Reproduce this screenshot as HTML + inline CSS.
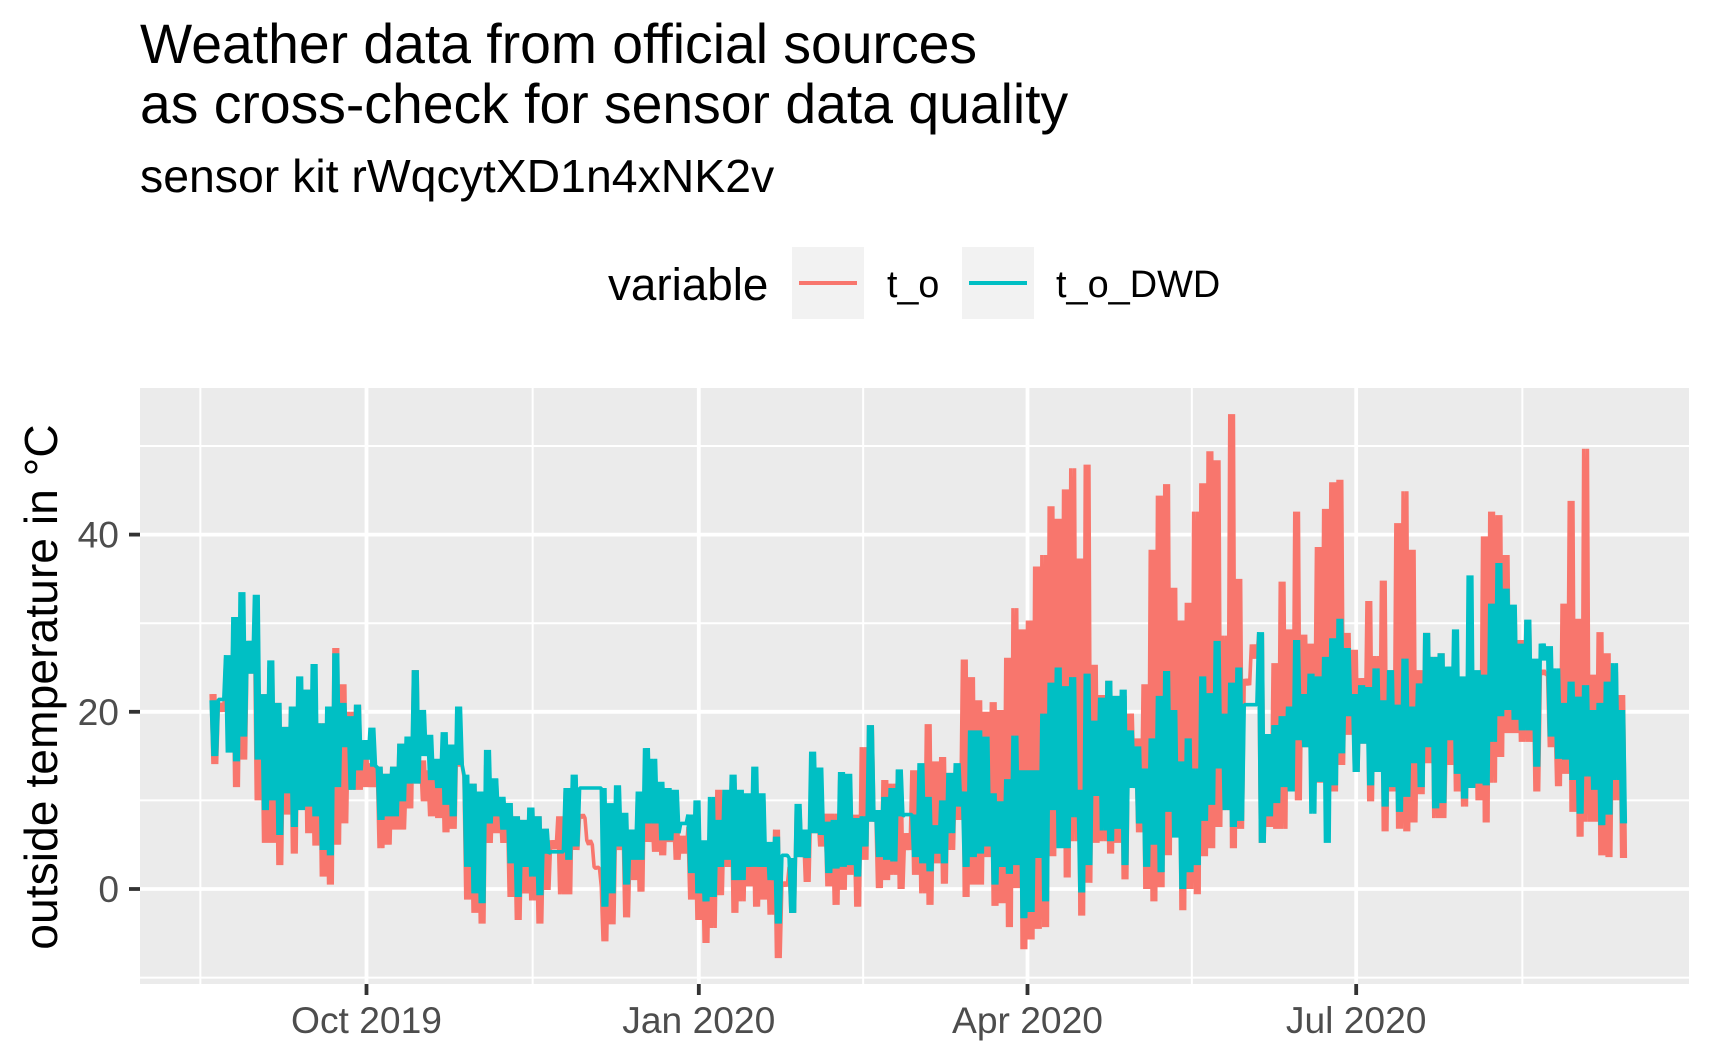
<!DOCTYPE html>
<html lang="en">
<head>
<meta charset="utf-8">
<title>Weather data cross-check</title>
<style>
html,body{margin:0;padding:0;background:#fff;width:1712px;height:1062px;overflow:hidden}
svg{display:block;font-family:"Liberation Sans",Arial,sans-serif}
</style>
</head>
<body>
<svg id="chart" xmlns="http://www.w3.org/2000/svg" width="1712" height="1062" viewBox="0 0 1712 1062">
  <text x="140" y="63" font-size="55.3" fill="#000">Weather data from official sources</text>
  <text x="140" y="123" font-size="55.3" fill="#000">as cross-check for sensor data quality</text>
  <text x="140" y="192" font-size="46.4" fill="#000">sensor kit rWqcytXD1n4xNK2v</text>
  <g>
    <text x="608" y="300" font-size="45.8" fill="#000">variable</text>
    <rect x="792" y="247" width="72" height="72" fill="#f2f2f2"></rect>
    <line x1="799" x2="857" y1="283" y2="283" stroke="#F8766D" stroke-width="4"></line>
    <text x="887" y="297" font-size="37.6" fill="#000">t_o</text>
    <rect x="962" y="247" width="72" height="72" fill="#f2f2f2"></rect>
    <line x1="969" x2="1027" y1="283" y2="283" stroke="#00BFC4" stroke-width="4"></line>
    <text x="1056" y="297" font-size="37.9" fill="#000">t_o_DWD</text>
  </g>
  <text transform="translate(57 687) rotate(-90)" text-anchor="middle" font-size="46.3" fill="#000">outside temperature in °C</text>
  <rect x="140" y="388" width="1549" height="596" fill="#EBEBEB"></rect>
  <g id="grid"></g>
  <g id="series"></g>
  <g id="axes"></g>
</svg>
<script>
// Time base: one high and one low reading per two-day slot, day 0 = 1 Oct 2019.
const firstDay = -43;
const slotDays = 2;
const xTickDays = [0, 92, 183, 274];
const xTickLabels = ["Oct 2019", "Jan 2020", "Apr 2020", "Jul 2020"];
const xMinorDays = [-46, 46, 137.5, 228.5, 320];
const yTickValues = [0, 20, 40];
const yTickLabels = ["0", "20", "40"];
const yMinorValues = [-10, 10, 30, 50];

const sensorHigh = [
22,21,26,28,28,28,30,22,25,21,
18.3,20.6,21.5,22.5,18,18.7,18.7,27.2,23.1,20,
20.8,16,14.2,13.8,13,13.8,16.4,13,24.7,14.5,
13.4,13,16,16,17.6,12.7,11.9,11,14,12.4,
9.9,9.7,8.2,7.8,9.2,8.2,6.8,5.5,8.2,11,
12.5,8.4,5.5,2.5,0.3,7,8.2,8,6,10.5,
14,10,10,11,9,6,7,8,5,8,
11.2,9,12,9.7,9,12,10,5.3,6.7,0.8,
2.5,9,6.3,10,8.5,8.5,8.5,12.3,12,8.4,
16,18.5,8.9,12.3,11.9,13.4,6.3,13.4,13.4,18.6,
14.4,14.9,13.1,13.8,25.9,23.9,21.3,20,21.1,20.2,
26.1,31.7,29.3,30.3,36.4,37.7,43.2,41.8,45.1,47.5,
37.3,47.9,25.3,21.9,23.5,21.8,21.8,19.8,17,23.1,
38.3,44.4,45.7,34,30.3,32.3,42.6,45.8,49.4,48.4,
28.6,53.6,35,23.7,27.6,28.8,14,25.5,34.7,29.3,
42.6,28.7,27.7,38.6,42.9,45.9,46.2,28.9,27,23.8,
32.5,26.3,34.8,24.7,41.3,44.9,38.3,24.7,28.9,26.2,
26.6,20,25,20,30,24,39.8,42.6,42.2,37.7,
31.8,28.1,30.3,25.8,24.7,24.2,21,32.2,43.8,30.5,
49.7,24.2,29,26.6,24.5,21.9];
const sensorLow = [
14.1,20,18,11.5,14.6,24.3,10,5.2,5.2,2.7,
8.4,4,12.7,6.3,4.9,1.4,0.5,5,7.4,11.2,
11.2,11.5,11.5,4.6,5,6.7,6.7,9.1,11.9,9.9,
8.2,8,6.4,6.8,13.8,-1.2,-2.7,-3.9,5.2,6.3,
5.2,-0.9,-3.5,-0.5,-1.3,-3.9,-0.1,4.5,-0.6,-0.6,
4.4,8,5,2.3,-5.9,-4,4.4,-3.2,1,-0.3,
5.3,4.2,3.8,5.3,3.3,4,-1.2,-3.5,-6.1,-4.4,
-0.7,2.5,-2.7,-1.4,0.3,-2,-1.2,-2.9,-7.8,0.3,
-2.7,3.6,0.8,6.3,4.8,0.3,-1.8,-0.1,1.6,-2,
3.3,7.6,0.1,1,1.6,0,4.4,1.6,-0.5,-1.8,
2.9,0.6,4.4,7.8,-0.9,0.5,0.5,3.6,-1.9,-1.6,
-4.3,0.1,-6.8,-5.7,-4.5,-4.3,3.7,5.2,1.3,5.4,
-3,0.7,5.2,5.4,4,5.2,1.1,11.4,6.4,0,
-1.4,0.2,3.8,6,-2.4,0,-0.6,3.7,4.6,7,
8.9,4.6,6.8,23,26,5.2,7,6.8,6.8,11,
10,16,15.7,12,11.7,11,14,17.4,13.2,16.4,
9.9,13.2,6.5,11,6.8,6.5,7.5,10.7,14.2,8,
8,14,11,9.3,11.4,10,7.5,12,14.9,17.6,
17.6,16.6,16.6,11,24.2,16,11.6,13,8.7,5.9,
7.6,7.6,3.8,3.6,10,3.5];
const dwdHigh = [
21.3,21.4,26.4,30.7,33.5,28,33.2,22,25.8,21,
18.3,20.6,24,22.5,25.4,18.7,20.6,26.6,21,19.5,
20.8,16.8,18.2,13.8,13,13.8,16.4,17.2,24.7,20.2,
17.4,14.7,17.7,16.3,20.6,12.9,11.9,11,15.7,12.5,
10.4,9.7,8.2,7.8,9.2,8.2,6.8,4.2,4.2,11.4,
12.9,11.4,11.4,11.4,11.4,9.7,11.7,8.6,6.7,11,
15.9,14.7,12.1,11.4,11.2,7.4,8.4,10,5.5,10.4,
7.8,11.2,12.9,11.2,10.8,13.8,10.8,5.3,5.9,3.8,
3.5,9.6,6.7,15.5,13.7,7.6,7.8,13.2,13,8,
8.2,18.5,8.9,10.4,11.4,13.5,8.4,8.4,14.2,10.4,
7.2,10,13.1,14.2,11,17.9,17.9,17.2,10.8,9.9,
12.4,17.3,13.4,13.4,13.4,19.8,23.3,25,22.9,23.9,
11.2,24.3,19,21.6,23.5,21.8,22.5,17.9,16.1,13.6,
17,21.8,24.6,20.2,14.4,17,13.6,24,22.1,28,
19.8,23.3,25,20.8,20.8,29,17.5,18.5,19.5,20.6,
28.1,22,24.3,24,26.2,28.3,30.5,27.2,22,23,
22.8,24.9,21.3,24.7,20.8,26,20.6,23.2,28.9,26.2,
26.6,25.1,29.3,24,35.4,24.7,24.2,32.2,36.8,33.9,
32.1,27.7,30.4,26,27.7,27.4,24.9,21,23.4,21.7,
23,20.2,21,23.4,25.5,20.2];
const dwdLow = [
15,21.4,15.4,14.4,17.2,24.3,14.6,8.9,10,6.1,
10.8,7,8.9,9.3,8.2,4.4,3.8,11.5,16,11.2,
13.4,14.6,13.8,7.8,8.2,8.2,9.9,11.9,11.9,15,
12.3,11.4,9.5,8.2,14,2.5,-0.5,-1.6,7.4,8.2,
6.7,2.9,-0.9,2.5,1.4,-0.7,4,4.2,4.2,3.3,
4.8,11.4,11.4,11.4,-2,-0.5,4.8,0.5,3.3,3.3,
7.4,7.4,5.5,5.5,6.3,7.4,1.8,-0.5,-1.4,-0.9,
2.5,3.3,1,1,2.5,2.5,2.5,1,-3.9,3.8,
-2.7,3.6,3.5,6.3,6.1,1.8,2.3,2.5,2.7,1.4,
4.8,7.6,3.6,3.3,3.1,8.2,8.4,3.6,2.9,2,
4,2.9,6.3,9.3,2.5,3.6,4,4.8,0.5,2.5,
1.7,2.7,-3.3,-2.6,3.5,-1.4,8.9,4.6,4.6,8.1,
-0.4,2.7,10.5,6.6,5.4,6.8,2.7,11.4,7.4,2.5,
5,1.9,8.7,5.8,0,1.9,2.7,7.7,9.5,13.6,
8.9,7,7.7,20.8,20.8,5.2,8.2,9.7,11.5,11,
16.8,16,8.5,12.1,5.2,11.7,15.3,19.5,13.2,16.4,
11.7,13.2,9.3,11.5,8.7,10.4,14.2,11.5,16,9.1,
9.7,16.8,13,10.2,11.4,11.9,11.7,16.6,19.5,20.2,
19.1,17.9,17.9,13.8,25.8,17.2,14.7,14.6,12.3,8.5,
12.7,11.2,7.2,8.4,12.3,7.4];

const SVG_NS = "http://www.w3.org/2000/svg";
const panelLeft = 140, panelRight = 1689, panelTop = 388, panelBottom = 984;

function xScale(day) { return 366.5 + 3.612 * day; }
function yScale(temp) { return 889 - 8.86 * temp; }

function makeEl(tag, attrs, parent) {
  const el = document.createElementNS(SVG_NS, tag);
  for (const key in attrs) el.setAttribute(key, attrs[key]);
  parent.appendChild(el);
  return el;
}

const grid = document.getElementById("grid");
const series = document.getElementById("series");
const axes = document.getElementById("axes");

yMinorValues.forEach(function (v) {
  const el = makeEl("line", {x1: panelLeft, x2: panelRight, y1: yScale(v), y2: yScale(v), stroke: "#fff", "stroke-width": 2}, grid);
  
  
});
xMinorDays.forEach(function (d) {
  const el = makeEl("line", {x1: xScale(d), x2: xScale(d), y1: panelTop, y2: panelBottom, stroke: "#fff", "stroke-width": 2}, grid);
  
  
});
yTickValues.forEach(function (v) {
  const el = makeEl("line", {x1: panelLeft, x2: panelRight, y1: yScale(v), y2: yScale(v), stroke: "#fff", "stroke-width": 3.8}, grid);
  
  
});
xTickDays.forEach(function (d) {
  const el = makeEl("line", {x1: xScale(d), x2: xScale(d), y1: panelTop, y2: panelBottom, stroke: "#fff", "stroke-width": 3.8}, grid);
  
  
});

// Each two-day slot oscillates between its high and low, as the hourly trace does.
function oscillationPath(highs, lows) {
  const parts = [];
  highs.forEach(function (hi, i) {
    const day = firstDay + i * slotDays;
    for (let step = 0; step < 4; step++) {
      const value = step % 2 === 0 ? hi : lows[i];
      parts.push(xScale(day + step * slotDays / 4).toFixed(1) + " " + yScale(value).toFixed(1));
    }
  });
  return "M" + parts.join("L");
}

const sensorLine = makeEl("path", {d: oscillationPath(sensorHigh, sensorLow), fill: "none", stroke: "#F8766D", "stroke-width": 3.6, "stroke-linejoin": "bevel"}, series);


const dwdLine = makeEl("path", {d: oscillationPath(dwdHigh, dwdLow), fill: "none", stroke: "#00BFC4", "stroke-width": 3.6, "stroke-linejoin": "bevel"}, series);



yTickValues.forEach(function (v, i) {
  const tick = makeEl("line", {x1: 129, x2: panelLeft, y1: yScale(v), y2: yScale(v), stroke: "#333", "stroke-width": 3.8}, axes);
  
  
  const label = makeEl("text", {x: 119, y: yScale(v) + 13, "text-anchor": "end", "font-size": 37.2, fill: "#4D4D4D"}, axes);
  label.textContent = yTickLabels[i];
  
  
});
xTickDays.forEach(function (d, i) {
  const tick = makeEl("line", {x1: xScale(d), x2: xScale(d), y1: panelBottom, y2: 995, stroke: "#333", "stroke-width": 3.8}, axes);
  
  
  const label = makeEl("text", {x: xScale(d), y: 1033, "text-anchor": "middle", "font-size": 37.2, fill: "#4D4D4D"}, axes);
  label.textContent = xTickLabels[i];
  
  
});
</script>
</body>
</html>
